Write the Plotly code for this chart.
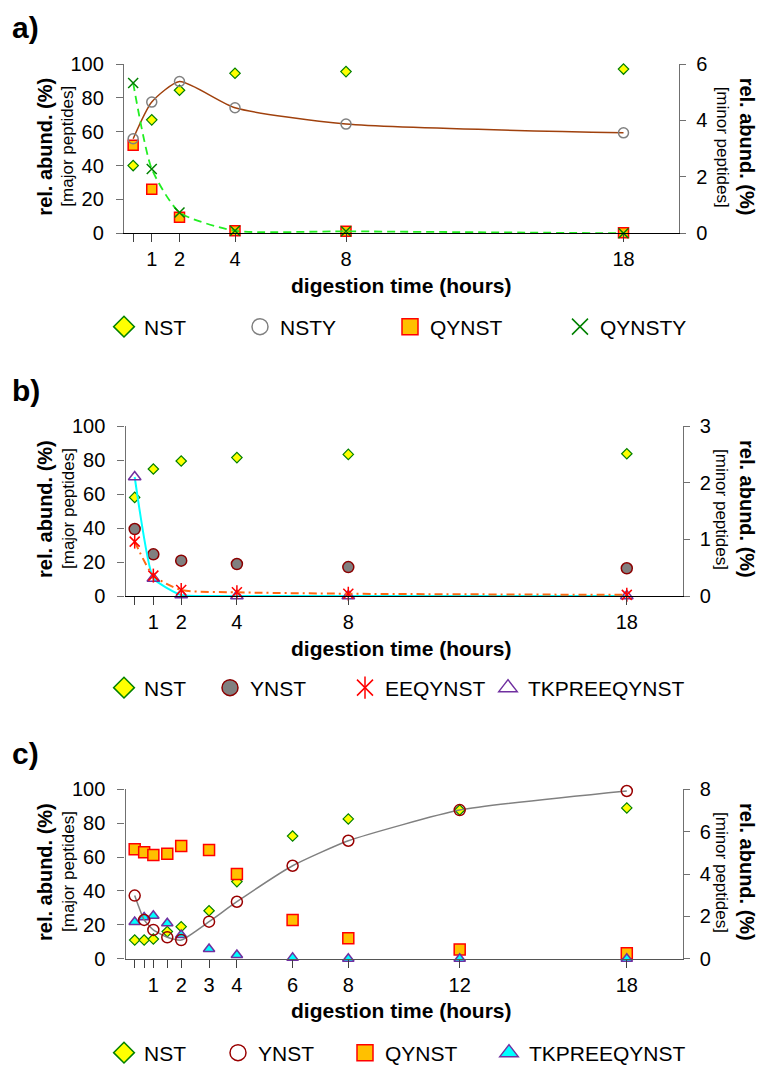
import plotly.graph_objects as go

W, H = 760, 1068
FONT = "Liberation Sans, Arial, sans-serif"

# ---------------- data ----------------
# panel a
t_a = [0.33, 1, 2, 4, 8, 18]
a_nst = [40, 67, 84.5, 94.5, 95.5, 97]            # major (%)
a_qynst = [52, 26, 9.5, 1.5, 1.2, 0.3]            # major (%)
a_nsty = [3.35, 4.65, 5.38, 4.45, 3.87, 3.56]     # minor (%)
a_qynsty = [5.33, 2.28, 0.74, 0.09, 0.07, 0.0]    # minor (%)
xtick_a = [0.33, 1, 2, 4, 8, 18]
xtext_a = ["", "1", "2", "4", "8", "18"]

# panel b
t_b = [0.33, 1, 2, 4, 8, 18]
b_nst = [58, 74.7, 79.4, 81.4, 83.3, 83.7]        # major
b_ynst = [39.4, 24.5, 20.8, 18.8, 17, 16.3]       # major
b_eeqynst = [0.96, 0.36, 0.105, 0.065, 0.04, 0.02]  # minor
b_tkp = [2.1, 0.31, 0.018, 0.0, 0.0, 0.0]         # minor
xtick_b = [0.33, 1, 2, 4, 8, 18]
xtext_b = ["", "1", "2", "4", "8", "18"]

# panel c
t_c = [0.33, 0.67, 1, 1.5, 2, 3, 4, 6, 8, 12, 18]
c_nst = [11, 11, 11.6, 16, 18.9, 28.3, 45.5, 72.4, 82.5, 87.8, 89]
c_qynst = [64.6, 62.8, 61.2, 62, 66.5, 64.2, 50, 22.8, 12, 5.5, 3.2]
c_tkp = [21.7, 24.4, 25.4, 20.9, 14, 5.7, 2.2, 0.5, 0, 0, 0]
c_ynst = [2.98, 1.83, 1.36, 1.01, 0.88, 1.75, 2.69, 4.39, 5.57, 7.02, 7.92]  # minor
xtick_c = [0.33, 0.67, 1, 1.5, 2, 3, 4, 6, 8, 12, 18]
xtext_c = ["", "", "1", "", "2", "3", "4", "6", "8", "12", "18"]

major_ticks = [0, 20, 40, 60, 80, 100]
minor_ticks_a = [0, 2, 4, 6]
minor_ticks_b = [0, 1, 2, 3]
minor_ticks_c = [0, 2, 4, 6, 8]

# ---------------- styles ----------------
YEL, GRN = "#FFFF00", "#008000"
GOLD, RED = "#FFC000", "#FF0000"
GREY = "#808080"
DRED = "#8B0000"
PURP = "#7030A0"
CYAN = "#00FFFF"

NST_M = dict(symbol="diamond", size=8, color=YEL, line=dict(color=GRN, width=1.2))
NST_L = dict(symbol="diamond", size=16, color=YEL, line=dict(color=GRN, width=1.5))

fig = go.Figure()


def sc(x, y, xa, ya, marker, mode="markers", line=None):
    tr = go.Scatter(x=x, y=y, xaxis=xa, yaxis=ya, mode=mode, marker=marker,
                    showlegend=False, cliponaxis=False, hoverinfo="skip")
    if line is not None:
        tr.line = line
    fig.add_trace(tr)


def leg(name, marker, legend):
    fig.add_trace(go.Scatter(x=[None], y=[None], xaxis="x", yaxis="y", mode="markers",
                             name=name, marker=marker, legend=legend, showlegend=True))


# panel a
sc(t_a, a_nst, "x", "y", NST_M)
sc(t_a, a_qynst, "x", "y", dict(symbol="square", size=10, color=GOLD, line=dict(color=RED, width=1.5)))
sc(t_a, a_nsty, "x", "y2", dict(symbol="circle-open", size=10, color=GREY, line=dict(color=GREY, width=1.5)),
   mode="lines+markers", line=dict(color="#A0410D", width=1.5, shape="spline", smoothing=0.6))
sc(t_a, a_qynsty, "x", "y2", dict(symbol="x-thin-open", size=10, color=GRN, line=dict(color=GRN, width=1.5)),
   mode="lines+markers", line=dict(color="#22EE22", width=1.8, dash="8px,5px", shape="spline", smoothing=0.6))

# panel b
sc(t_b, b_nst, "x2", "y3", NST_M)
sc(t_b, b_ynst, "x2", "y3", dict(symbol="circle", size=11, color=GREY, line=dict(color=DRED, width=1.5)))
sc(t_b, b_tkp, "x2", "y4", dict(symbol="triangle-up-open", size=11, color=PURP, line=dict(color=PURP, width=1.5)),
   mode="lines+markers", line=dict(color=CYAN, width=2, shape="spline", smoothing=0.4))
sc(t_b, b_eeqynst, "x2", "y4", dict(symbol="x-thin-open", size=10, color=RED, line=dict(color=RED, width=1.5)),
   mode="lines+markers", line=dict(color="#FF6A13", width=2, dash="8px,4px,2px,4px", shape="spline", smoothing=0.6))
sc(t_b, b_eeqynst, "x2", "y4", dict(symbol="line-ns-open", size=10, color=RED, line=dict(color=RED, width=1.5)))

# panel c
sc(t_c, c_nst, "x3", "y5", NST_M)
sc(t_c, c_qynst, "x3", "y5", dict(symbol="square", size=11, color=GOLD, line=dict(color=RED, width=1.5)))
sc(t_c, c_tkp, "x3", "y5", dict(symbol="triangle-up", size=10, color=CYAN, line=dict(color=PURP, width=1.5)))
sc(t_c, c_ynst, "x3", "y6", dict(symbol="circle-open", size=11, color="#990000", line=dict(color="#990000", width=1.5)),
   mode="lines+markers", line=dict(color=GREY, width=1.5, shape="spline", smoothing=0.5))

# legend entries (one legend per entry so they can sit where the original has them)
legend_items = [
    # name, marker, (cx, cy)
    ("NST", NST_L, (124, 327)),
    ("NSTY", dict(symbol="circle-open", size=16, color=GREY, line=dict(color=GREY, width=1.5)), (260, 327)),
    ("QYNST", dict(symbol="square", size=16, color=GOLD, line=dict(color=RED, width=1.5)), (410, 327)),
    ("QYNSTY", dict(symbol="x-thin-open", size=16, color=GRN, line=dict(color=GRN, width=1.5)), (580, 327)),
    ("NST", NST_L, (124, 688)),
    ("YNST", dict(symbol="circle", size=16, color=GREY, line=dict(color=DRED, width=1.5)), (230, 688)),
    ("EEQYNST", dict(symbol="x-thin-open", size=16, color=RED, line=dict(color=RED, width=1.5)), (365, 688)),
    ("TKPREEQYNST", dict(symbol="triangle-up-open", size=16, color=PURP, line=dict(color=PURP, width=1.5)), (508, 688)),
    ("NST", NST_L, (124, 1053)),
    ("YNST", dict(symbol="circle-open", size=16, color="#990000", line=dict(color="#990000", width=1.5)), (238, 1053)),
    ("QYNST", dict(symbol="square", size=16, color=GOLD, line=dict(color=RED, width=1.5)), (365, 1053)),
    ("TKPREEQYNST", dict(symbol="triangle-up", size=16, color=CYAN, line=dict(color=PURP, width=1.5)), (509, 1053)),
    ("EEQYNST", dict(symbol="line-ns-open", size=16, color=RED, line=dict(color=RED, width=1.5)), (365, 688)),
]

layout_legends = {}
for i, (name, mk, (cx, cy)) in enumerate(legend_items):
    key = "legend" if i == 0 else f"legend{i+1}"
    leg(name, mk, key)
    col = "rgba(0,0,0,0)" if i == 12 else "black"
    layout_legends[key] = dict(x=(cx - 20) / W, xanchor="left", y=1 - cy / H, yanchor="middle",
                               orientation="h", bgcolor="rgba(0,0,0,0)", borderwidth=0,
                               font=dict(family=FONT, size=21, color=col), itemsizing="trace")

# ---------------- axes ----------------
panels = {
    "a": dict(x0=124, x1=679, y0=64, y1=233.3, xline="black"),
    "b": dict(x0=125.5, x1=682.5, y0=426, y1=596, xline="black"),
    "c": dict(x0=125.5, x1=682.5, y0=789.3, y1=958.7, xline="#555555"),
}
tickfont = dict(family=FONT, size=20, color="black")


def xaxis(p, tv, tt, anchor):
    return dict(domain=[p["x0"] / W, p["x1"] / W], anchor=anchor, range=[0, 20],
                tickmode="array", tickvals=tv, ticktext=tt, ticks="outside", ticklen=8,
                tickcolor="#404040", tickwidth=1.3, showline=True, linecolor=p["xline"], linewidth=1.3,
                showgrid=False, zeroline=False, tickfont=tickfont, ticklabelstandoff=0,
                automargin=False)


def yleft(p, anchor):
    return dict(domain=[1 - p["y1"] / H, 1 - p["y0"] / H], anchor=anchor, range=[0, 100],
                tickmode="array", tickvals=major_ticks, ticks="outside", ticklen=7, tickcolor="#707070",
                tickwidth=1.3, showline=True, linecolor="#707070", linewidth=1.3, showgrid=False,
                zeroline=False, tickfont=tickfont, ticklabelstandoff=8, automargin=False)


def yright(tv, anchor, overlay):
    return dict(overlaying=overlay, anchor=anchor, side="right", range=[0, tv[-1]],
                tickmode="array", tickvals=tv, ticks="outside", ticklen=6, tickcolor="#707070",
                tickwidth=1.3, showline=True, linecolor="#707070", linewidth=1.3, showgrid=False,
                zeroline=False, tickfont=tickfont, ticklabelstandoff=6, automargin=False)


pa, pb, pc = panels["a"], panels["b"], panels["c"]

annotations = []
for key, p, lab in (("a", pa, "a)"), ("b", pb, "b)"), ("c", pc, "c)")):
    yc = (p["y0"] + p["y1"]) / 2 - 2
    annotations += [
        dict(text=f"<b>{lab}</b>", x=10 / W, xanchor="left", y=1 - (p["y0"] - 36) / H, yanchor="middle",
             font=dict(family=FONT, size=30, color="black")),
        dict(text="<b>rel. abund. (%)</b>", textangle=-90, x=45 / W, xanchor="center", y=1 - yc / H,
             yanchor="middle", font=dict(family=FONT, size=20, color="black")),
        dict(text="[major peptides]", textangle=-90, x=68 / W, xanchor="center", y=1 - yc / H,
             yanchor="middle", font=dict(family=FONT, size=17, color="black")),
        dict(text="<b>rel. abund. (%)</b>", textangle=90, x=747 / W, xanchor="center", y=1 - yc / H,
             yanchor="middle", font=dict(family=FONT, size=20, color="black")),
        dict(text="[minor peptides]", textangle=90, x=722 / W, xanchor="center", y=1 - yc / H,
             yanchor="middle", font=dict(family=FONT, size=17, color="black")),
        dict(text="<b>digestion time (hours)</b>", x=401 / W, xanchor="center", y=1 - (p["y1"] + 52) / H,
             yanchor="middle", font=dict(family=FONT, size=21, color="black")),
    ]
for a in annotations:
    a.update(xref="paper", yref="paper", showarrow=False)

fig.update_layout(
    width=W, height=H, margin=dict(l=0, r=0, t=0, b=0, autoexpand=False),
    paper_bgcolor="white", plot_bgcolor="white",
    font=dict(family=FONT, size=20, color="black"),
    xaxis=xaxis(pa, xtick_a, xtext_a, "y"),
    xaxis2=xaxis(pb, xtick_b, xtext_b, "y3"),
    xaxis3=xaxis(pc, xtick_c, xtext_c, "y5"),
    yaxis=yleft(pa, "x"),
    yaxis2=yright(minor_ticks_a, "x", "y"),
    yaxis3=yleft(pb, "x2"),
    yaxis4=yright(minor_ticks_b, "x2", "y3"),
    yaxis5=yleft(pc, "x3"),
    yaxis6=yright(minor_ticks_c, "x3", "y5"),
    annotations=annotations,
    **layout_legends,
)

fig.write_html("out.html")
